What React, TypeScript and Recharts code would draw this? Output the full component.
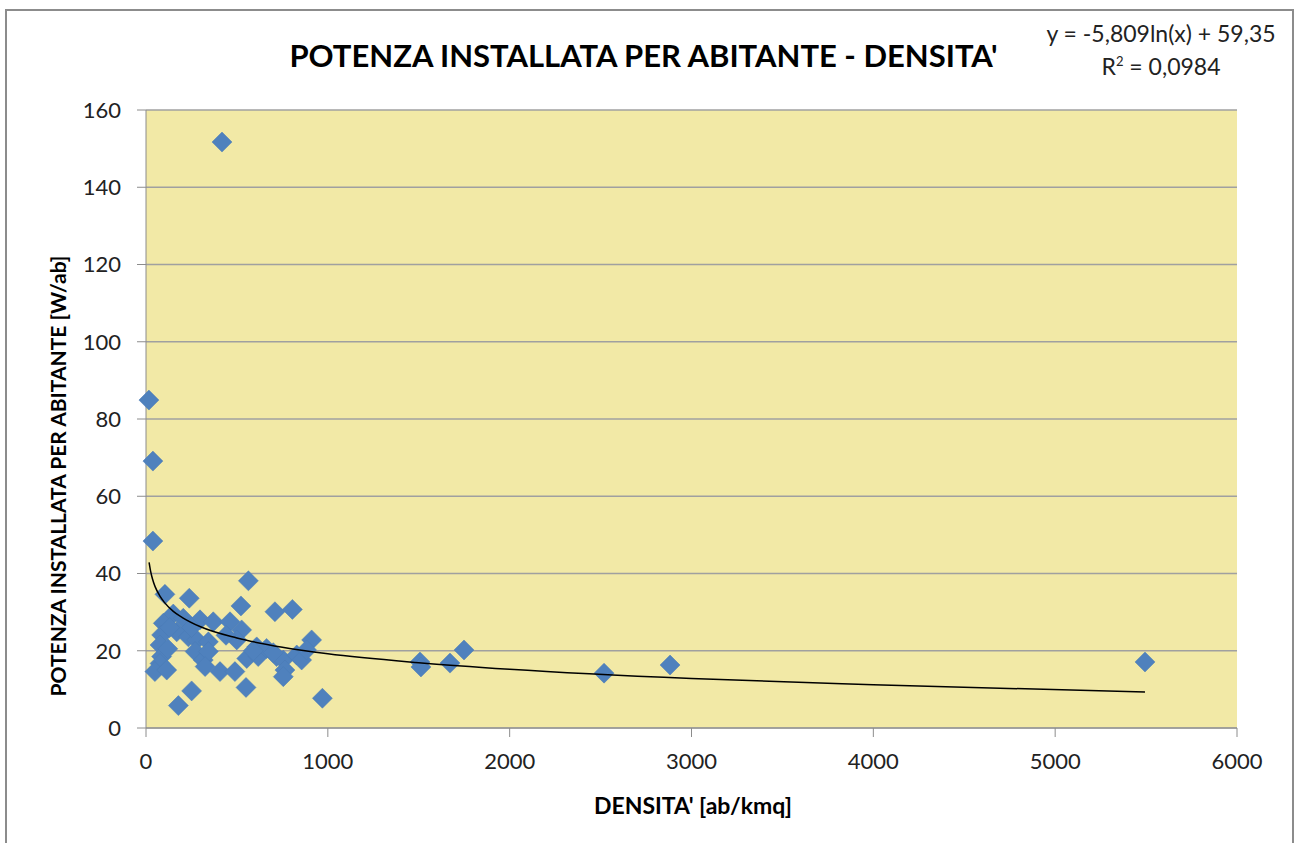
import React from 'react';
import { ScatterChart, Scatter, XAxis, YAxis, CartesianGrid } from 'recharts';

// densità (ab/kmq) e potenza installata per abitante (W/ab)
const densita = [
  418, 16, 38, 38, 563, 104, 238, 522, 709, 805, 911, 1507, 1512, 1672, 1749, 2519, 2882, 5494,
  970, 178, 251, 550, 150, 205, 297, 370, 462, 526, 95, 86, 77, 86, 77, 49, 114, 169, 233, 279,
  343, 270, 315, 343, 325, 407, 489, 499, 554, 609, 617, 663, 718, 755, 764, 755, 829, 856, 883,
  130, 120, 250, 440, 590, 700,
];
const potenza = [
  151.7, 84.9, 69.1, 48.4, 38.1, 34.6, 33.6, 31.6, 30.1, 30.7, 22.8, 17.1, 15.8, 16.8, 20.2, 14.2,
  16.3, 17.1, 7.7, 5.8, 9.6, 10.5, 29.5, 28.4, 28.0, 27.5, 27.5, 25.4, 27.1, 24.1, 21.5, 18.5,
  16.7, 14.6, 15.0, 24.9, 23.6, 22.8, 22.3, 19.8, 17.6, 19.8, 15.9, 14.6, 14.6, 22.8, 18.0, 21.0,
  18.5, 20.6, 18.5, 17.6, 15.0, 13.3, 18.9, 17.6, 20.2, 26.0, 20.5, 26.0, 24.0, 20.0, 19.5,
];

// linea di tendenza logaritmica
const trendX = [17, 25, 35, 50, 75, 100, 150, 200, 300, 500, 750, 1000, 1500, 2000, 3000, 4000, 5494];
const trendY = [42.9, 40.7, 38.7, 36.6, 34.3, 32.6, 30.2, 28.6, 26.2, 23.3, 20.9, 19.2, 16.9, 15.2, 12.8, 11.2, 9.3];

const xTicks = [0, 1000, 2000, 3000, 4000, 5000, 6000];
const yTicks = [0, 20, 40, 60, 80, 100, 120, 140, 160];

const FONT = 'Lato, "Open Sans", sans-serif';

const points = densita.map((x, i) => ({ x, y: potenza[i] }));
const trend = trendX.map((x, i) => ({ x, y: trendY[i] }));

const Diamond = (props: any) => {
  const { cx, cy } = props;
  const r = 10;
  return (
    <polygon
      points={`${cx},${cy - r} ${cx + r},${cy} ${cx},${cy + r} ${cx - r},${cy}`}
      fill="#4F81BD"
      stroke="#4a7ab5"
      strokeWidth={0.5}
    />
  );
};

const App: React.FC = () => {
  return (
    <div style={{ position: 'absolute', left: 0, top: 0, width: 1299, height: 843, background: '#fff', fontFamily: FONT, overflow: 'hidden' }}>
      <div
        style={{
          position: 'absolute', left: 5, top: 9, width: 1289, height: 850,
          border: '2px solid #8c8c8c', boxSizing: 'border-box',
        }}
      />
      <ScatterChart
        width={1299}
        height={843}
        margin={{ top: 110, right: 62, bottom: 55, left: 0 }}
        style={{ position: 'absolute', left: 0, top: 0 }}
      >
        <CartesianGrid
          vertical={false}
          stroke="#a0a0a0"
          strokeWidth={1.5}
          fill="#F2E9A6"
          fillOpacity={1}
        />
        <XAxis
          type="number"
          dataKey="x"
          domain={[0, 6000]}
          ticks={xTicks}
          interval={0}
          height={60}
          tickSize={9}
          tickMargin={16}
          stroke="#8c8c8c"
          tick={{ fill: '#222', fontSize: 22, fontFamily: FONT }}
        />
        <YAxis
          type="number"
          dataKey="y"
          domain={[0, 160]}
          ticks={yTicks}
          interval={0}
          width={146}
          tickSize={9}
          tickMargin={16}
          stroke="#8c8c8c"
          tick={{ fill: '#222', fontSize: 22, fontFamily: FONT }}
        />
        <Scatter data={points} shape={<Diamond />} isAnimationActive={false} />
        <Scatter
          data={trend}
          line={{ stroke: '#000', strokeWidth: 1.5 }}
          lineJointType="monotoneX"
          shape={() => <g />}
          isAnimationActive={false}
        />
      </ScatterChart>
      <div
        style={{
          position: 'absolute', left: 0, width: 1287, top: 36, textAlign: 'center',
          fontSize: 31, fontWeight: 700, color: '#000', lineHeight: '38px',
        }}
      >
        POTENZA INSTALLATA PER ABITANTE - DENSITA'
      </div>
      <div
        style={{
          position: 'absolute', left: 1030, width: 262, top: 17, textAlign: 'center',
          fontSize: 23, color: '#222', lineHeight: '33px',
        }}
      >
        <div>y = -5,809ln(x) + 59,35</div>
        <div>R<sup style={{ fontSize: 13, lineHeight: 0 }}>2</sup> = 0,0984</div>
      </div>
      <div
        style={{
          position: 'absolute', left: 493, width: 400, top: 790, textAlign: 'center',
          fontSize: 23, fontWeight: 700, color: '#000', lineHeight: '30px',
        }}
      >
        DENSITA' [ab/kmq]
      </div>
      <div
        style={{
          position: 'absolute', left: 58 - 250, width: 500, top: 476 - 15, textAlign: 'center',
          fontSize: 21, fontWeight: 700, color: '#000', lineHeight: '30px',
          transform: 'rotate(-90deg)', transformOrigin: '250px 15px',
        }}
      >
        POTENZA INSTALLATA PER ABITANTE [W/ab]
      </div>
    </div>
  );
};

export default App;
